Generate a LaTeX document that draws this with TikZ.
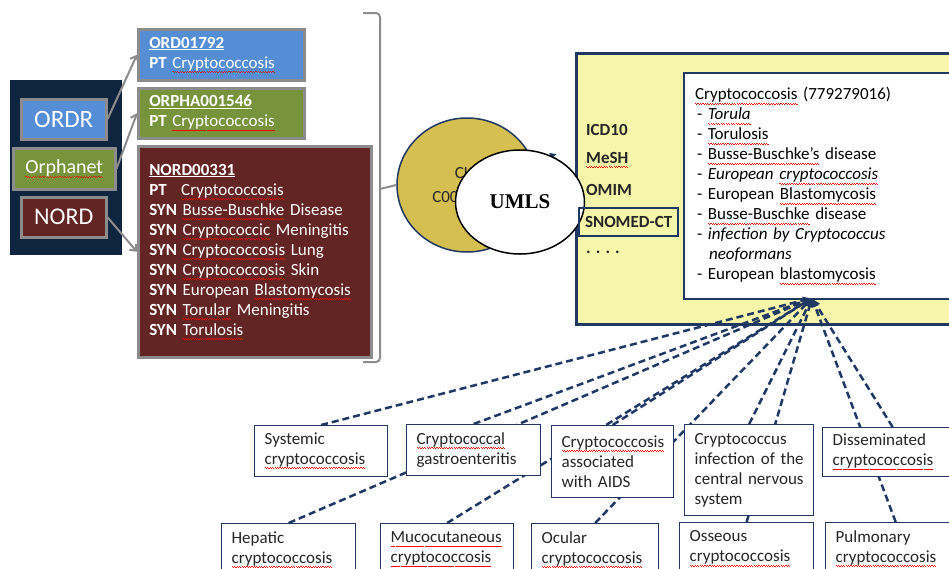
\documentclass[tikz,border=0pt]{standalone}
\usepackage{fontspec}
\setmainfont{Carlito}
\newfontfamily\umlsfont{Liberation Serif}
\usetikzlibrary{positioning}
\usetikzlibrary{shapes.geometric}
\usetikzlibrary{arrows.meta}
\pgfdeclarelayer{background}
\pgfdeclarelayer{foreground}
\pgfsetlayers{background,main,foreground}

\definecolor{navy}{HTML}{1F3864}
\definecolor{panelnavy}{HTML}{0F243E}
\definecolor{ordblue}{HTML}{558ED5}
\definecolor{orphgreen}{HTML}{77933C}
\definecolor{nordred}{HTML}{632523}
\definecolor{boxgray}{HTML}{8C8C8C}
\definecolor{cuigold}{HTML}{D5BF50}
\definecolor{umlsyellow}{HTML}{F6F6AB}
\definecolor{txtgray}{HTML}{262626}

% spell-check squiggle under a word
\newcommand\sq[1]{\leavevmode\setbox0\hbox{#1}\rlap{\color{red}\hbox to \wd0{\xleaders\hbox{\rule[-3.6pt]{1.2pt}{0.9pt}\rule[-4.5pt]{1.2pt}{0.9pt}}\hfill}}\box0\relax}

\begin{document}
\begin{tikzpicture}[x=1pt,y=-1pt,
				srcnode/.style={draw=boxgray, line width=2.5pt, text=white, anchor=north west, inner sep=0pt},
				recnode/.style={draw=boxgray, line width=2.5pt, text=white, anchor=north west, align=left, inner xsep=11pt, font=\fontsize{17}{20}\selectfont},
				leafnode/.style={draw=navy, line width=1.3pt, fill=white, text=txtgray, anchor=north west, align=left, inner xsep=10pt, font=\fontsize{17}{20}\selectfont},
				dbnode/.style={anchor=west, inner sep=0pt, text=txtgray, font=\fontsize{17}{20}\selectfont\bfseries},
				isa/.style={dash pattern=on 7pt off 4pt, navy, line width=2.5pt, -{Latex[length=9pt,width=8pt]}},
				link/.style={boxgray, line width=2pt, -{Straight Barb[length=5pt,width=9pt]}},
				]
				\useasboundingbox (0,0) rectangle (949,568);

				%Sources
				\node[fill=panelnavy, anchor=north west, minimum width=112pt, minimum height=175pt, inner sep=0pt] (panel) at (10,80) {};
				\node[srcnode, fill=ordblue, minimum width=85pt, minimum height=40pt, font=\fontsize{25}{25}\selectfont] (ordr) at (20,98) {ORDR};
				\node[srcnode, fill=orphgreen, minimum width=102pt, minimum height=41pt, font=\fontsize{20}{20}\selectfont] (orphanet) at (12,147) {\sq{Orphanet}};
				\node[srcnode, fill=nordred, minimum width=85pt, minimum height=40pt, font=\fontsize{24}{24}\selectfont] (nord) at (20,196) {NORD};

				%Records
				\node[recnode, fill=ordblue, minimum height=51pt, text width=144pt] (ord) at (137,28) {\textbf{\underline{ORD01792}}\\\textbf{PT} \sq{Cryptococcosis}};
				\node[recnode, fill=orphgreen, minimum height=50pt, text width=144pt] (orpha) at (137,87) {\textbf{\underline{ORPHA001546}}\\\textbf{PT} \sq{Cryptococcosis}};
				\node[recnode, fill=nordred, minimum height=211pt, text width=211pt] (nordrec) at (137,145) {\textbf{\underline{NORD00331}}\\
					\makebox[1.88em][l]{\textbf{PT}}\sq{Cryptococcosis}\\
					\textbf{SYN} \sq{Busse-Buschke} Disease\\
					\textbf{SYN} \sq{Cryptococcic} Meningitis\\
					\textbf{SYN} \sq{Cryptococcosis} Lung\\
					\textbf{SYN} \sq{Cryptococcosis} Skin\\
					\textbf{SYN} European \sq{Blastomycosis}\\
					\textbf{SYN} \sq{Torular} Meningitis\\
					\textbf{SYN} \sq{Torulosis}};

				\draw[link] (ordr.east) -- (ord.west);
				\draw[link] (orphanet.east) -- (orpha.west);
				\draw[link] (nord.east) -- (nordrec.west);

				%Bracket
				\draw[boxgray, line width=2pt, rounded corners=4pt] (363,13) -- (380,13) -- (380,362) -- (363,362);
				\coordinate (brk) at (380,189);

				%CUI and UMLS
				\node[ellipse, draw=navy, line width=1.5pt, fill=cuigold, minimum width=140pt, minimum height=134pt, align=center, text=txtgray, font=\fontsize{17}{24}\selectfont] (cui) at (467,185) {CUI\\C0010414};
				\draw[boxgray, line width=2pt] (brk) -- (cui.west);
				\coordinate (hidtip) at (557,154);
				\draw[navy, line width=1.5pt, -{Latex[length=7pt,width=7pt]}] (cui.20) -- (hidtip);
				\node[ellipse, draw=black, line width=1.5pt, fill=white, minimum width=129pt, minimum height=104pt, font=\umlsfont\fontsize{21}{21}\selectfont\bfseries] (umls) at (520,202) {UMLS};

				\begin{pgfonlayer}{background}
				\node[draw=navy, line width=2.5pt, fill=umlsyellow, anchor=north west, minimum width=400pt, minimum height=271pt, inner sep=0pt] (umlsbox) at (575,52) {};
				\node[draw=navy, line width=2pt, fill=white, anchor=north west, minimum height=226pt, text width=268pt, inner xsep=11pt, align=left, text=black, font=\fontsize{17}{20}\selectfont] (concept) at (683,72) {\sq{Cryptococcosis} (779279016)\\
					\hspace*{2pt}- \textit{\sq{Torula}}\\
					\hspace*{2pt}- \sq{Torulosis}\\
					\hspace*{2pt}- \sq{Busse-Buschke's} disease\\
					\hspace*{2pt}- \textit{European \sq{cryptococcosis}}\\
					\hspace*{2pt}- European \sq{Blastomycosis}\\
					\hspace*{2pt}- \sq{Busse-Buschke} disease\\
					\hspace*{2pt}- \textit{infection by Cryptococcus}\\
					\hspace*{14pt}\textit{neoformans}\\
					\hspace*{2pt}- European \sq{blastomycosis}};
				\end{pgfonlayer}

				\node[dbnode] (icd) at (586,130) {ICD10};
				\node[dbnode] (mesh) at (586,160) {\sq{MeSH}};
				\node[dbnode] (omim) at (586,190) {OMIM};
				\node[dbnode, draw=navy, line width=2pt, inner xsep=6pt, minimum height=28pt] (snomedct) at (578,222) {SNOMED-CT};
				\node[dbnode] (more) at (586,252) {. . . .};

				%Subtypes
				\node[leafnode, text width=113pt, minimum height=51pt] (systemic) at (254,425) {Systemic\\\sq{cryptococcosis}};
				\node[leafnode, text width=114pt, minimum height=51pt] (gastro) at (406,424) {\sq{Cryptococcal}\\gastroenteritis};
				\node[leafnode, text width=102pt, minimum height=72pt] (aids) at (551,425) {\sq{Cryptococcosis}\\associated\\with~AIDS};
				\node[leafnode, text width=109pt, minimum height=91pt] (cns) at (684,424) {Cryptococcus\\infection~of~the\\central~nervous\\system};
				\node[leafnode, text width=120pt, minimum height=49pt] (dissem) at (822,427) {Disseminated\\\sq{cryptococcosis}};
				\node[leafnode, text width=114pt, minimum height=52pt] (hepatic) at (221,523) {Hepatic\\\sq{cryptococcosis}};
				\node[leafnode, text width=113pt, minimum height=52pt] (mucocut) at (380,523) {\sq{Mucocutaneous}\\\sq{cryptococcosis}};
				\node[leafnode, text width=107pt, minimum height=52pt] (ocular) at (531,523) {Ocular\\\sq{cryptococcosis}};
				\node[leafnode, text width=114pt, minimum height=52pt] (osseous) at (679,522) {Osseous\\\sq{cryptococcosis}};
				\node[leafnode, text width=120pt, minimum height=52pt] (pulmonary) at (825,522) {Pulmonary\\\sq{cryptococcosis}};

				\coordinate (conv) at (812,298);

				\begin{pgfonlayer}{background}
				%Lines
				\draw[isa] (systemic.north) -- (conv);
				\draw[isa] (gastro.north) -- (conv);
				\draw[isa] (aids.north) -- (conv);
				\draw[isa] (cns.north) -- (conv);
				\draw[isa] (dissem.north) -- (conv);
				\draw[isa] (hepatic.north) -- (conv);
				\draw[isa] (mucocut.north) -- (conv);
				\draw[isa] (ocular.north) -- (conv);
				\draw[isa] (osseous.north) -- (conv);
				\draw[isa] (pulmonary.north) -- (conv);
				\end{pgfonlayer}
			\end{tikzpicture}
\end{document}
